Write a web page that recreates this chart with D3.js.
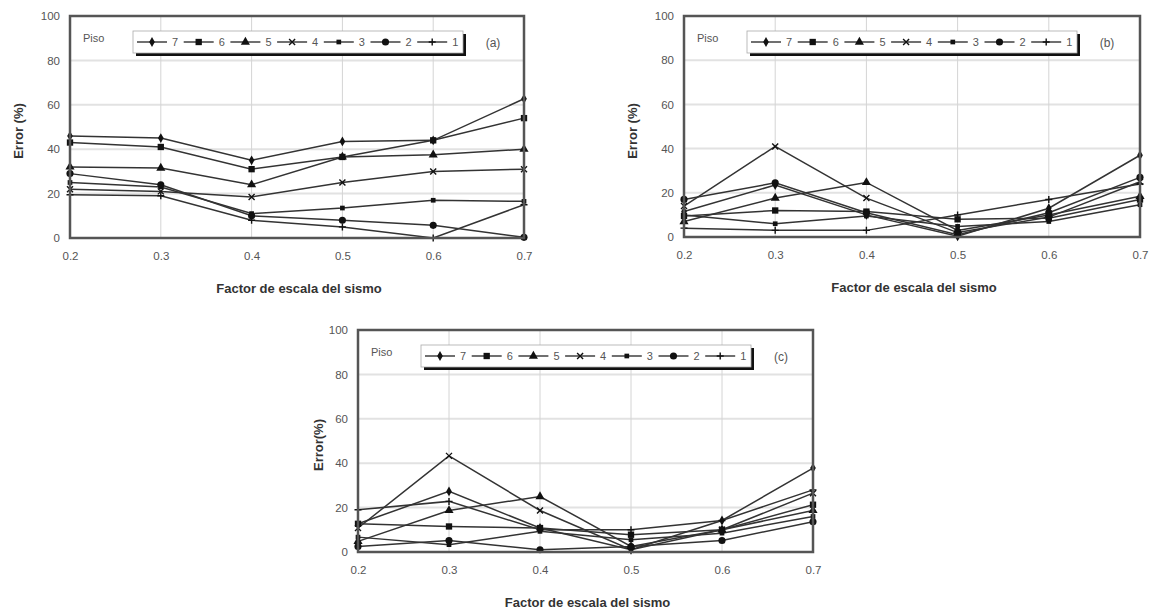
<!DOCTYPE html>
<html>
<head>
<meta charset="utf-8">
<script src="https://cdn.jsdelivr.net/npm/d3@7"></script>
<style>
  body { margin: 0; background: #fff; }
  text { font-family: "Liberation Sans", Arial, sans-serif; }
</style>
</head>
<body>
<svg id="chart" width="1151" height="613"></svg>
<script>
// x values (factor de escala) and y ticks
var factors = [0.2, 0.3, 0.4, 0.5, 0.6, 0.7];
var yTicks = [0, 20, 40, 60, 80, 100];
var pisos = ["7", "6", "5", "4", "3", "2", "1"];

// error (%) per piso, order 7..1
var errorA = [
  [46, 45, 35, 43.5, 44, 62.7],
  [43, 41, 31, 36.5, 44, 54],
  [32, 31.5, 24, 36.5, 37.5, 40],
  [22, 21, 18.5, 25, 30, 31],
  [25, 23, 11, 13.5, 17, 16.5],
  [29, 24, 10, 8, 5.7, 0.3],
  [19.5, 19, 8, 5, 0, 15]
];
var errorB = [
  [11.5, 23.5, 10, 0.3, 13, 37],
  [9.5, 12, 11.5, 8, 8.5, 17],
  [7, 17.6, 24.7, 3, 10, 18.4],
  [14, 41, 17.6, 2, 9, 25],
  [10, 6, 9.5, 4.8, 7, 14.6],
  [17, 24.5, 11, 1, 11, 27],
  [4, 3, 3, 10, 17, 24]
];
var errorC = [
  [12.7, 27.3, 10.8, 1, 14.2, 37.8],
  [12.7, 11.5, 10.8, 7.8, 10, 21.3],
  [4.8, 18.7, 25, 2.5, 10, 18.7],
  [10.8, 43.3, 18.7, 1, 10, 26.5],
  [6.7, 3.3, 9.3, 5.5, 8.5, 16],
  [2.5, 5.2, 1, 2.5, 5.2, 13.6],
  [19, 22.8, 10, 10, 14.2, 28]
];

var svg = d3.select("#chart");

var panels = [
  {data: errorA, tag: "(a)", ytitle: "Error (%)", left: 70, top: 16, w: 454, h: 222, yt: 18},
  {data: errorB, tag: "(b)", ytitle: "Error (%)", left: 684, top: 16, w: 456, h: 221, yt: 632},
  {data: errorC, tag: "(c)", ytitle: "Error(%)", left: 358, top: 330, w: 455, h: 222, yt: 318}
];

function drawMarker(g, k, x, y) {
  var col = "#111";
  var tr = "translate(" + x + "," + y + ")";
  if (k == 0) { // 7: small diamond
    g.append("path").attr("d", d3.symbol(d3.symbolDiamond, 28)()).attr("transform", tr).attr("fill", col);
  } else if (k == 1) { // 6: square
    g.append("path").attr("d", d3.symbol(d3.symbolSquare, 40)()).attr("transform", tr).attr("fill", col);
  } else if (k == 2) { // 5: triangle
    g.append("path").attr("d", d3.symbol(d3.symbolTriangle, 36)()).attr("transform", tr).attr("fill", col);
  } else if (k == 3) { // 4: x
    g.append("path").attr("d", "M-3,-3L3,3M-3,3L3,-3").attr("transform", tr).attr("stroke", col).attr("stroke-width", 1.4);
  } else if (k == 4) { // 3: small square
    g.append("path").attr("d", d3.symbol(d3.symbolSquare, 22)()).attr("transform", tr).attr("fill", col);
  } else if (k == 5) { // 2: circle
    g.append("path").attr("d", d3.symbol(d3.symbolCircle, 40)()).attr("transform", tr).attr("fill", col);
  } else { // 1: plus
    g.append("path").attr("d", "M-3.5,0L3.5,0M0,-3.5L0,3.5").attr("transform", tr).attr("stroke", col).attr("stroke-width", 1.4);
  }
}

panels.forEach(function(p) {
  var g = svg.append("g").attr("transform", "translate(" + p.left + "," + p.top + ")");

  var x = d3.scaleLinear().domain([0.2, 0.7]).range([0, p.w]);
  var y = d3.scaleLinear().domain([0, 100]).range([p.h, 0]);

  // grid
  g.selectAll(".hgrid").data(yTicks.slice(1, 5)).enter().append("line")
    .attr("x1", 0).attr("x2", p.w)
    .attr("y1", d => y(d)).attr("y2", d => y(d))
    .attr("stroke", "#e2e2e2").attr("stroke-width", 2);
  g.selectAll(".vgrid").data(factors.slice(1, 5)).enter().append("line")
    .attr("y1", 0).attr("y2", p.h)
    .attr("x1", d => x(d)).attr("x2", d => x(d))
    .attr("stroke", "#d4d4d4").attr("stroke-width", 1);

  // axes (labels only)
  var xAxis = g.append("g").attr("transform", "translate(0," + p.h + ")")
    .call(d3.axisBottom(x).tickValues(factors).tickFormat(d3.format(".1f")).tickSize(0).tickPadding(14));
  var yAxis = g.append("g")
    .call(d3.axisLeft(y).tickValues(yTicks).tickSize(0).tickPadding(10));
  [xAxis, yAxis].forEach(function(a) {
    a.select(".domain").remove();
    a.selectAll("text").attr("fill", "#555").style("font-size", "11.5px");
  });

  // series
  var line = d3.line().x((d, i) => x(factors[i])).y(d => y(d));
  p.data.forEach(function(vals, k) {
    g.append("path").datum(vals).attr("d", line)
      .attr("fill", "none").attr("stroke", "#333").attr("stroke-width", 1.5);
  });
  p.data.forEach(function(vals, k) {
    vals.forEach(function(v, i) { drawMarker(g, k, x(factors[i]), y(v)); });
  });

  // frame
  g.append("rect").attr("x", 0).attr("y", 0).attr("width", p.w).attr("height", p.h)
    .attr("fill", "none").attr("stroke", "#555").attr("stroke-width", 2.5);

  // legend
  g.append("text").attr("x", 13).attr("y", 26).text("Piso")
    .attr("fill", "#555").style("font-size", "11px");
  var lx = 63, ly = 15, lw = 330, lh = 22;
  g.append("rect").attr("x", lx + 3).attr("y", ly + 3).attr("width", lw).attr("height", lh).attr("fill", "#111");
  g.append("rect").attr("x", lx).attr("y", ly).attr("width", lw).attr("height", lh)
    .attr("fill", "#fff").attr("stroke", "#aaa").attr("stroke-width", 0.8);
  pisos.forEach(function(name, k) {
    var ex = lx + 4 + k * 46.7, ey = ly + lh / 2;
    g.append("line").attr("x1", ex).attr("x2", ex + 30).attr("y1", ey).attr("y2", ey)
      .attr("stroke", "#333").attr("stroke-width", 1.4);
    drawMarker(g, k, ex + 15, ey);
    g.append("text").attr("x", ex + 35).attr("y", ey + 4).text(name)
      .attr("fill", "#555").style("font-size", "11px");
  });
  g.append("text").attr("x", 423).attr("y", 31).attr("text-anchor", "middle").text(p.tag)
    .attr("fill", "#555").style("font-size", "12px");

  // titles
  g.append("text").attr("x", p.w / 2 + 2).attr("y", p.h + 55).attr("text-anchor", "middle")
    .text("Factor de escala del sismo").attr("fill", "#333")
    .style("font-size", "13px").style("font-weight", "bold");
  svg.append("text").attr("transform", "translate(" + p.yt + "," + (p.top + 115) + ") rotate(-90)")
    .attr("text-anchor", "middle").attr("dy", "0.35em").text(p.ytitle).attr("fill", "#333")
    .style("font-size", "13px").style("font-weight", "bold");
});
</script>
</body>
</html>
